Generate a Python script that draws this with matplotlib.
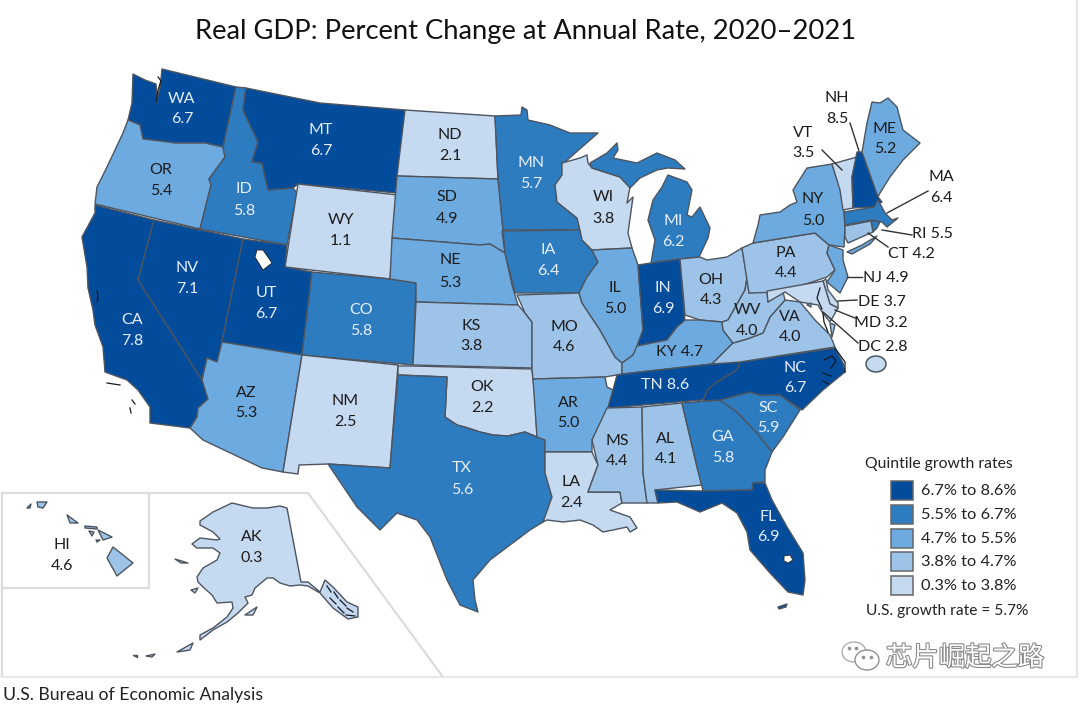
import matplotlib
matplotlib.use('Agg')
import matplotlib.pyplot as plt
import matplotlib.patheffects as pe
from matplotlib.patches import Polygon, Rectangle, Ellipse

plt.rcParams['font.family'] = ['Lato', 'DejaVu Sans']

title = 'Real GDP: Percent Change at Annual Rate, 2020\u20132021'
source = 'U.S. Bureau of Economic Analysis'
legend_title = 'Quintile growth rates'
legend_labels = ['6.7% to 8.6%', '5.5% to 6.7%', '4.7% to 5.5%', '3.8% to 4.7%', '0.3% to 3.8%']
us_rate = 'U.S. growth rate = 5.7%'
colors = ['#034c9b', '#2e7cc0', '#6daadf', '#9dc3e8', '#c5d9f1']
edge = '#4d5560'

states = ['WA', 'OR', 'CA', 'NV', 'ID', 'MT', 'WY', 'UT', 'AZ', 'CO', 'NM', 'ND', 'SD', 'NE', 'KS', 'OK', 'TX',
          'MN', 'IA', 'MO', 'AR', 'LA', 'WI', 'IL', 'MI', 'IN', 'OH', 'KY', 'TN', 'MS', 'AL', 'GA', 'FL', 'SC',
          'NC', 'VA', 'WV', 'PA', 'NY', 'VT', 'NH', 'ME', 'MA', 'RI', 'CT', 'NJ', 'DE', 'MD', 'DC', 'AK', 'HI']
gdp = [6.7, 5.4, 7.8, 7.1, 5.8, 6.7, 1.1, 6.7, 5.3, 5.8, 2.5, 2.1, 4.9, 5.3, 3.8, 2.2, 5.6,
       5.7, 6.4, 4.6, 5.0, 2.4, 3.8, 5.0, 6.2, 6.9, 4.3, 4.7, 8.6, 4.4, 4.1, 5.8, 6.9, 5.9,
       6.7, 4.0, 4.0, 4.4, 5.0, 3.5, 8.5, 5.2, 6.4, 5.5, 4.2, 4.9, 3.7, 3.2, 2.8, 0.3, 4.6]
# class, ties like 3.8 fall on both sides
quintile = [0, 2, 0, 0, 1, 0, 4, 0, 2, 1, 4, 4, 2, 2, 3, 4, 1,
            1, 1, 3, 2, 4, 4, 2, 1, 0, 3, 2, 0, 3, 3, 1, 0, 1,
            0, 3, 3, 3, 2, 4, 0, 2, 1, 1, 3, 2, 4, 4, 4, 4, 3]

# outlines in image pixels, the map has no scale to go through
shapes = {
    'WA': [[(162, 69), (236, 87), (223, 147), (205, 143), (175, 143), (160, 141), (143, 139), (140, 125), (128, 120),
            (132, 103), (133, 74), (145, 80), (156, 84), (157, 96), (156, 103), (160, 88)]],
    'OR': [[(128, 120), (140, 125), (143, 139), (160, 141), (175, 143), (205, 143), (223, 147), (225, 157), (209, 179),
            (211, 185), (200, 229), (95, 204), (97, 187), (107, 167), (123, 133)]],
    'CA': [[(95, 205), (154, 220), (138, 280), (202, 380), (208, 399), (198, 408), (197, 417), (190, 428), (150, 423),
            (150, 407), (138, 390), (127, 380), (105, 372), (103, 347), (95, 325), (93, 310), (88, 288), (87, 267),
            (82, 237), (95, 213)]],
    'NV': [[(154, 220), (243, 239), (222, 342), (217, 362), (207, 358), (202, 380), (138, 280)]],
    'ID': [[(236, 87), (246, 88), (243, 110), (258, 142), (252, 162), (262, 163), (268, 190), (293, 188), (297, 193),
            (287, 245), (200, 229), (211, 185), (209, 179), (225, 157), (223, 147)]],
    'MT': [[(246, 88), (320, 103), (405, 110), (397, 193), (298, 184), (293, 188), (268, 190), (262, 163), (252, 162),
            (258, 142), (243, 110)]],
    'WY': [[(298, 184), (398, 195), (390, 279), (285, 267)]],
    'UT': [[(243, 239), (287, 245), (285, 267), (312, 272), (302, 355), (222, 342)]],
    'AZ': [[(222, 342), (302, 355), (283, 472), (262, 468), (203, 440), (190, 428), (197, 417), (198, 408), (208, 399),
            (202, 380), (207, 358), (217, 362)]],
    'CO': [[(312, 272), (390, 279), (416, 283), (413, 365), (302, 355)]],
    'NM': [[(302, 355), (398, 365), (390, 468), (328, 464), (299, 465), (298, 474), (283, 472)]],
    'ND': [[(405, 110), (495, 116), (498, 179), (397, 176)]],
    'SD': [[(397, 176), (498, 179), (499, 188), (503, 230), (502, 232), (505, 253), (490, 244), (480, 245), (392, 238)]],
    'NE': [[(392, 238), (480, 245), (490, 244), (505, 253), (512, 285), (518, 305), (416, 302), (416, 283), (390, 279)]],
    'KS': [[(416, 302), (518, 305), (525, 313), (532, 322), (532, 368), (413, 365)]],
    'OK': [[(398, 366), (413, 366), (532, 369), (535, 397), (537, 437), (525, 432), (508, 436), (493, 435), (480, 432),
            (468, 428), (457, 425), (445, 417), (447, 377), (398, 375)]],
    'TX': [[(398, 375), (447, 377), (445, 417), (457, 425), (468, 428), (480, 432), (493, 435), (508, 436), (525, 432),
            (537, 437), (545, 440), (545, 473), (552, 497), (543, 522), (530, 530), (510, 545), (490, 560), (473, 580),
            (475, 600), (478, 612), (460, 605), (447, 580), (430, 537), (417, 520), (397, 513), (380, 530), (357, 507),
            (328, 464), (390, 468)]],
    'MN': [[(495, 116), (521, 115), (522, 107), (527, 110), (528, 120), (550, 125), (570, 133), (598, 133), (565, 162),
            (562, 163), (562, 175), (555, 185), (557, 202), (577, 218), (580, 230), (503, 230), (499, 188), (498, 179)]],
    'IA': [[(503, 231), (580, 230), (582, 240), (592, 250), (598, 262), (587, 277), (579, 293), (515, 293), (505, 253)]],
    'MO': [[(517, 295), (579, 293), (582, 303), (600, 330), (615, 357), (622, 363), (622, 374), (605, 377), (533, 379),
            (532, 369), (532, 322), (525, 313)]],
    'AR': [[(533, 379), (605, 377), (607, 387), (613, 390), (608, 408), (592, 440), (592, 452), (545, 452), (545, 440),
            (537, 437)]],
    'LA': [[(545, 452), (592, 452), (598, 465), (588, 492), (620, 492), (622, 503), (610, 510), (630, 517), (637, 528),
            (630, 532), (627, 527), (613, 530), (603, 532), (593, 525), (580, 520), (563, 522), (547, 520), (543, 522),
            (552, 497), (545, 473)]],
    'WI': [[(562, 163), (580, 158), (587, 155), (588, 163), (592, 168), (620, 177), (630, 187), (627, 203), (633, 197),
            (628, 233), (632, 248), (592, 250), (582, 240), (580, 230), (577, 218), (557, 202), (555, 185), (562, 175)]],
    'IL': [[(592, 250), (632, 248), (638, 265), (643, 330), (637, 347), (633, 355), (622, 363), (615, 357), (600, 330),
            (582, 303), (579, 293), (587, 277), (598, 262)]],
    'MI': [[(590, 163), (607, 153), (617, 143), (618, 150), (613, 158), (637, 163), (657, 153), (675, 160), (685, 169),
            (668, 168), (657, 170), (640, 178), (630, 188), (620, 177), (592, 168)],
           [(668, 175), (687, 182), (692, 190), (687, 215), (692, 217), (700, 207), (710, 228), (708, 238), (699, 257),
            (680, 259), (651, 263), (655, 240), (648, 220), (653, 200), (662, 187)]],
    'IN': [[(638, 265), (651, 263), (680, 259), (685, 322), (677, 327), (667, 340), (637, 346), (643, 330)]],
    'OH': [[(680, 259), (700, 257), (707, 260), (727, 257), (742, 248), (747, 277), (745, 290), (728, 320), (722, 322),
            (700, 320), (685, 315)]],
    'KY': [[(685, 320), (700, 320), (722, 322), (723, 330), (733, 343), (712, 364), (640, 372), (622, 374), (622, 363),
            (633, 355), (637, 346), (667, 340), (677, 327)]],
    'TN': [[(617, 375), (640, 372), (712, 364), (740, 362), (737, 370), (717, 382), (702, 400), (608, 408), (613, 390)]],
    'MS': [[(607, 408), (642, 407), (643, 473), (647, 503), (622, 503), (620, 492), (588, 492), (598, 465), (592, 440)]],
    'AL': [[(642, 407), (682, 403), (697, 467), (702, 485), (655, 490), (658, 503), (647, 503), (643, 473)]],
    'GA': [[(682, 403), (720, 400), (737, 412), (757, 433), (772, 452), (765, 470), (765, 482), (753, 483), (752, 490),
            (703, 491), (697, 467)]],
    'FL': [[(655, 490), (703, 491), (752, 490), (753, 483), (765, 483), (772, 500), (787, 527), (803, 553), (805, 580),
            (803, 595), (788, 592), (770, 573), (750, 550), (747, 532), (737, 513), (722, 503), (700, 512), (677, 502),
            (658, 503)],
           [(778, 607), (787, 604), (786, 607), (779, 609)]],
    'SC': [[(720, 400), (750, 392), (760, 395), (780, 395), (800, 410), (783, 437), (772, 452), (757, 433), (737, 412)]],
    'NC': [[(740, 362), (835, 348), (843, 363), (845, 372), (823, 390), (802, 410), (780, 395), (760, 395), (750, 392),
            (720, 400), (703, 401), (707, 390), (717, 382), (737, 370)]],
    'VA': [[(712, 364), (733, 343), (747, 339), (763, 333), (770, 317), (785, 300), (800, 302), (815, 320), (830, 335),
            (835, 347), (740, 362)],
           [(830, 323), (835, 325), (832, 337)]],
    'WV': [[(728, 320), (745, 290), (747, 278), (749, 293), (767, 291), (768, 302), (783, 292), (785, 300), (770, 317),
            (763, 333), (747, 339), (733, 343), (723, 330), (722, 322)]],
    'PA': [[(742, 248), (753, 243), (815, 233), (829, 245), (827, 253), (835, 270), (827, 277), (782, 292), (749, 293)]],
    'NY': [[(753, 243), (758, 225), (760, 215), (780, 212), (790, 205), (797, 202), (793, 190), (807, 168), (832, 164),
            (843, 197), (845, 227), (844, 247), (829, 245), (815, 233)],
           [(847, 252), (862, 245), (877, 236), (870, 244), (852, 254)]],
    'VT': [[(832, 164), (857, 157), (852, 177), (853, 208), (843, 210), (840, 190)]],
    'NH': [[(857, 152), (862, 152), (878, 197), (882, 202), (874, 207), (853, 208), (852, 177)]],
    'ME': [[(862, 152), (867, 123), (872, 102), (880, 103), (888, 98), (897, 107), (903, 130), (920, 143), (903, 160),
            (890, 177), (880, 193), (878, 197)]],
    'MA': [[(844, 212), (874, 207), (878, 200), (885, 213), (892, 220), (898, 218), (887, 227), (882, 222), (871, 220),
            (845, 225)]],
    'RI': [[(871, 221), (880, 222), (877, 228), (873, 232)]],
    'CT': [[(845, 226), (871, 221), (873, 232), (848, 243), (845, 237)]],
    'NJ': [[(829, 245), (843, 250), (843, 260), (848, 277), (840, 293), (827, 282), (835, 270), (827, 253)]],
    'DE': [[(823, 281), (826, 279), (828, 290), (838, 303), (838, 308), (830, 304)]],
    'MD': [[(767, 291), (823, 281), (830, 304), (838, 308), (830, 322), (822, 312), (818, 305), (800, 302), (785, 292),
            (768, 302)]],
    'DC': [[(807, 305), (811, 303), (811, 307)]],
    'AK': [[(287, 508), (301, 582), (308, 582), (320, 592), (325, 580), (333, 587), (347, 602), (358, 607), (358, 617),
            (348, 619), (333, 608), (320, 593), (308, 586), (300, 585), (290, 586), (280, 583), (273, 578), (267, 578),
            (255, 588), (252, 595), (245, 597), (248, 603), (238, 613), (227, 622), (213, 630), (200, 640), (200, 635),
            (213, 628), (227, 617), (233, 608), (232, 602), (217, 603), (212, 595), (203, 587), (198, 582), (197, 577),
            (203, 568), (217, 560), (220, 553), (213, 548), (197, 548), (192, 544), (200, 538), (217, 540), (220, 539),
            (213, 532), (200, 525), (200, 521), (213, 512), (232, 503), (253, 508), (267, 508), (280, 506)],
           [(245, 615), (257, 607), (253, 615)],
           [(177, 652), (193, 643), (190, 650)],
           [(175, 559), (188, 563), (181, 563)],
           [(191, 590), (198, 588), (195, 593)],
           [(133, 655), (137, 655), (137, 657)],
           [(146, 656), (155, 654), (152, 657)]],
    'HI': [[(113, 547), (133, 563), (117, 576), (107, 558)],
           [(98, 530), (112, 537), (103, 540)],
           [(67, 515), (78, 523), (70, 523)],
           [(37, 502), (47, 502), (43, 508), (38, 507)],
           [(27, 508), (31, 504), (30, 508)],
           [(85, 526), (97, 527), (97, 529), (85, 528)],
           [(89, 531), (94, 532), (92, 536)],
           [(96, 540), (100, 540), (97, 542)]],
}
lakes = [[(257, 250), (263, 250), (272, 263), (263, 270), (255, 257)],
         [(784, 556), (790, 555), (793, 560), (788, 563), (784, 561)]]
# black specks along the rough coasts
coast_lines = [
    [(158, 77), (161, 81), (158, 90), (156, 102)],
    [(97, 291), (98, 297), (97, 302)],
    [(107, 383), (120, 385)],
    [(132, 400), (135, 404)],
    [(130, 408), (131, 413)],
    [(327, 586), (331, 592)], [(334, 592), (338, 598)], [(330, 598), (336, 604)], [(340, 600), (346, 606)],
    [(338, 607), (344, 613)], [(347, 608), (353, 612)], [(346, 615), (355, 616)],
    [(824, 360), (832, 356), (836, 361), (831, 368)], [(823, 373), (831, 376)], [(823, 381), (828, 384)],
    [(835, 348), (845, 362), (845, 372)],
    [(820, 288), (817, 298), (822, 309)], [(823, 313), (824, 322), (828, 332)],
]

# code, value positions, one pair for two lines or one point for "KY 4.7"
label_pos = {
    'WA': (182, 99, 119), 'OR': (161, 170, 191), 'CA': (132, 320, 341), 'NV': (187, 268, 289), 'ID': (244, 189, 211),
    'MT': (321, 130, 151), 'WY': (341, 220, 241), 'UT': (266, 293, 314), 'AZ': (246, 393, 413), 'CO': (361, 310, 331),
    'NM': (345, 401, 422), 'ND': (450, 135, 156), 'SD': (447, 197, 219), 'NE': (450, 260, 283), 'KS': (471, 326, 346),
    'OK': (482, 387, 408), 'TX': (462, 468, 490), 'MN': (531, 163, 184), 'IA': (548, 250, 271), 'MO': (564, 327, 347),
    'AR': (568, 403, 423), 'LA': (571, 482, 503), 'WI': (603, 197, 219), 'IL': (615, 288, 309), 'MI': (673, 221, 242),
    'IN': (663, 288, 309), 'OH': (711, 280, 300), 'MS': (617, 441, 461), 'AL': (666, 439, 459), 'GA': (723, 437, 458),
    'FL': (768, 517, 537), 'SC': (768, 408, 428), 'NC': (795, 368, 388), 'VA': (790, 317, 337), 'WV': (747, 310, 331),
    'PA': (786, 253, 273), 'NY': (813, 199, 221), 'VT': (803, 133, 153), 'NH': (837, 98, 119), 'ME': (885, 129, 149),
    'MA': (941, 177, 198), 'AK': (252, 537, 558), 'HI': (62, 545, 566),
}
inline_pos = {'KY': (680, 352), 'TN': (665, 385), 'RI': (932, 234), 'CT': (911, 254), 'NJ': (886, 278),
              'DE': (882, 302), 'MD': (881, 323), 'DC': (883, 347)}
outside = ['VT', 'NH', 'MA', 'RI', 'CT', 'NJ', 'DE', 'MD', 'DC']
leaders = [((850, 123), (859, 151)), ((822, 150), (842, 170)), ((928, 191), (887, 213)), ((912, 235), (882, 230)),
           ((888, 247), (868, 233)), ((862, 277), (847, 277)), ((857, 300), (838, 301)), ((855, 318), (835, 310)),
           ((858, 343), (823, 312))]

fig = plt.figure(figsize=(10.8, 7.06), dpi=100)
ax = fig.add_axes([0, 0, 1, 1])
ax.set_xlim(0, 1080)
ax.set_ylim(706, 0)
ax.axis('off')

# inset frames
frame = '#dcdcdc'
ax.plot([2, 308, 443], [493, 493, 677], color=frame, lw=1.6)
ax.plot([149, 149, 2], [493, 588, 588], color=frame, lw=1.6)
ax.plot([2, 2], [493, 677], color=frame, lw=1.6)
ax.plot([0, 1077, 1077], [677, 677, 0], color='#e8e8e8', lw=1.6)

for code, q in zip(states, quintile):
    for pts in shapes[code]:
        ax.add_patch(Polygon(pts, closed=True, fc=colors[q], ec=edge, lw=1.0, joinstyle='round'))
for pts in lakes:
    ax.add_patch(Polygon(pts, closed=True, fc='white', ec='#222222', lw=0.6))
for pts in coast_lines:
    ax.plot([p[0] for p in pts], [p[1] for p in pts], color='#151a22', lw=0.9)
ax.add_patch(Ellipse((876, 364), 20, 16, fc=colors[4], ec=edge, lw=1.1))

for start, end in leaders:
    ax.plot([start[0], end[0]], [start[1], end[1]], color='#333333', lw=1)

fs = 11.5
for code, val, q in zip(states, gdp, quintile):
    col = '#e6eef8' if q < 2 and code not in outside else '#1c1c1c'
    if code in label_pos:
        x, y1, y2 = label_pos[code]
        ax.text(x, y1, code, color=col, fontsize=fs, ha='center', va='center')
        ax.text(x, y2, f'{val:.1f}', color=col, fontsize=fs, ha='center', va='center')
    else:
        x, y = inline_pos[code]
        ax.text(x, y, f'{code} {val:.1f}', color=col, fontsize=fs, ha='center', va='center')

ax.text(526, 31, title, fontsize=19.7, color='#111111', ha='center', va='center')

# legend
ax.text(865, 464, legend_title, fontsize=11.3, color='#222222', ha='left', va='center')
for i, (lab, col) in enumerate(zip(legend_labels, colors)):
    y = 481 + i * 23.8
    ax.add_patch(Rectangle((891, y), 22, 19, fc=col, ec='#666666', lw=1.1))
    ax.text(921, y + 10, lab, fontsize=11.8, color='#222222', ha='left', va='center')
ax.text(866, 611, us_rate, fontsize=11.2, color='#222222', ha='left', va='center')

ax.text(3, 695, source, fontsize=12.7, color='#222222', ha='left', va='center')

# watermark
mark = [pe.withStroke(linewidth=1.6, foreground='#8a8a8a')]
ax.add_patch(Ellipse((854, 652), 24, 20, fc='white', ec='#b0b0b0', lw=1))
ax.add_patch(Ellipse((867, 660), 24, 20, fc='white', ec='#909090', lw=1))
ax.plot([849, 856, 863, 871], [648, 648, 657, 657], ls='', marker='o', ms=1.6, color='#909090')
ax.text(965, 658, '芯片崛起之路', fontsize=19, color='white', ha='center', va='center',
        family=['Noto Sans CJK SC', 'DejaVu Sans'], path_effects=mark)

fig.savefig('out.png', dpi=100)
